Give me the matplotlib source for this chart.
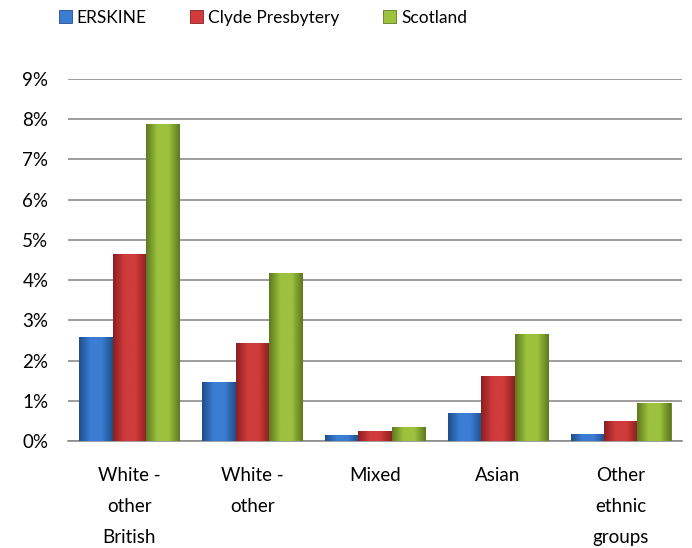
import numpy as np
import matplotlib.pyplot as plt
from matplotlib.colors import LinearSegmentedColormap
from matplotlib.ticker import PercentFormatter

plt.rcParams['font.family'] = ['Lato', 'DejaVu Sans']

categories = ["White -\nother\nBritish", "White -\nother", "Mixed", "Asian", "Other\nethnic\ngroups"]
series = ["ERSKINE", "Clyde Presbytery", "Scotland"]
erskine = [2.59, 1.47, 0.15, 0.69, 0.17]
clyde = [4.65, 2.44, 0.25, 1.63, 0.50]
scotland = [7.88, 4.19, 0.35, 2.66, 0.94]
colors = ["#3B7DD3", "#D03B3B", "#9CC23E"]
dark = ["#1F4E8C", "#8C1F1F", "#5E7A1F"]

fig = plt.figure(figsize=(6.92, 5.48), dpi=100)
ax = fig.add_axes([0.098, 0.195, 0.888, 0.661])

x = np.arange(len(categories))
w = 0.27
for i, (vals, c, d, name) in enumerate(zip([erskine, clyde, scotland], colors, dark, series)):
    bars = ax.bar(x + (i - 1) * w, vals, w, color=c, edgecolor=d, linewidth=0.6,
                  label=name, zorder=3)
    # shaded fill to mimic the bevelled bars
    cmap = LinearSegmentedColormap.from_list("g", [d, c, c, d])
    for b in bars:
        x0, y0 = b.get_x(), b.get_y()
        im = ax.imshow(np.linspace(0, 1, 64).reshape(1, -1), cmap=cmap, aspect="auto",
                       extent=[x0, x0 + b.get_width(), y0, y0 + b.get_height()],
                       zorder=3.5, interpolation="bicubic")
        im.set_clip_path(b)

ax.set_xlim(-0.5, len(categories) - 0.5)
ax.set_ylim(0, 9)
ax.set_yticks(np.arange(0, 10, 1))
ax.yaxis.set_major_formatter(PercentFormatter(decimals=0))
ax.set_xticks(x)
ax.set_xticklabels(categories, linespacing=2.0)
ax.grid(axis="y", color="#8C8C8C", linewidth=1.2, zorder=0)
for s in ["top", "right", "left"]:
    ax.spines[s].set_visible(False)
ax.spines["bottom"].set_color("#8C8C8C")
ax.spines["bottom"].set_linewidth(1.2)
ax.tick_params(axis="y", length=0, labelsize=13.5, pad=14)
ax.tick_params(axis="x", length=0, labelsize=13.5, pad=18.5)

fig.legend(loc="center", bbox_to_anchor=(0.38, 0.968), ncol=3, frameon=False,
           fontsize=12.5, handlelength=0.75, handleheight=0.75, handletextpad=0.3,
           columnspacing=2.5)

fig.savefig("out.png", dpi=100)
